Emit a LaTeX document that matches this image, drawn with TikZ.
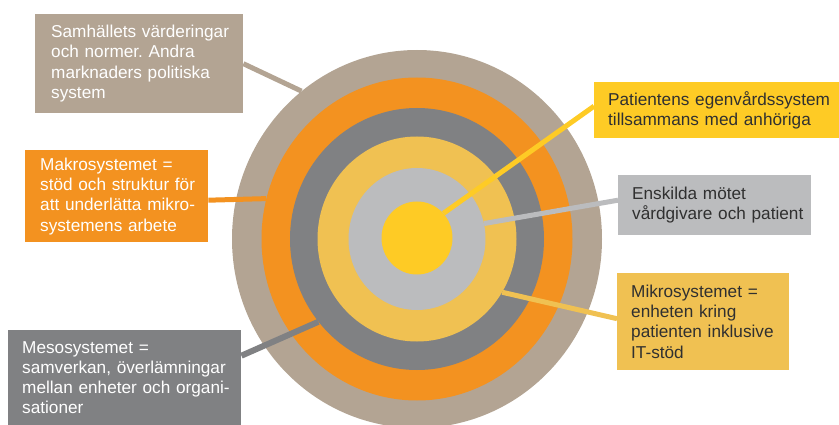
\documentclass[tikz,border=0pt]{standalone}
\usepackage{fontspec}
\setmainfont{Liberation Sans}
\usetikzlibrary{shapes.geometric}
\definecolor{ctan}{HTML}{B3A493}
\definecolor{corange}{HTML}{F39220}
\definecolor{cdgray}{HTML}{808183}
\definecolor{cly}{HTML}{F0C152}
\definecolor{clg}{HTML}{BBBCBE}
\definecolor{cyel}{HTML}{FECB25}
\definecolor{ctext}{HTML}{303030}
\newcommand\Ln[1]{\mbox{#1}}
\frenchspacing
\pgfdeclarelayer{bg}
\pgfdeclarelayer{mid}
\pgfsetlayers{bg,mid,main}
\begin{document}
\begin{tikzpicture}[x=1pt,y=-1pt,
  ring/.style={ellipse, inner sep=0pt, draw=none},
  box/.style={anchor=north west, inner ysep=0pt, align=left,
    font=\fontsize{17.2}{20.3}\selectfont\frenchspacing},
  conn/.style={line width=5pt}]
\useasboundingbox (0,0) rectangle (839,425);
\begin{pgfonlayer}{bg}
\node[ring, fill=ctan,    minimum width=370pt, minimum height=378pt] (rtan) at (417,239) {};
\node[ring, fill=corange, minimum width=311pt, minimum height=323pt] (rorange) at (417,239) {};
\node[ring, fill=cdgray,  minimum width=254pt, minimum height=262pt] (rgray) at (417,239) {};
\node[ring, fill=cly,     minimum width=199pt, minimum height=205pt] (rly) at (417,239) {};
\node[ring, fill=clg,     minimum width=137pt, minimum height=142pt] (rlg) at (417,239) {};
\node[ring, fill=cyel,    minimum width=71pt,  minimum height=73pt] (ryel) at (417,238) {};
\end{pgfonlayer}

\node[box, fill=ctan, text=white, inner xsep=16pt, text width=176pt, minimum height=99pt] (samh) at (35,14)
  {\Ln{Samhällets värderingar}\\\Ln{och normer. Andra}\\\Ln{marknaders politiska}\\\Ln{system}};
\node[box, fill=corange, text=white, inner xsep=15pt, text width=153pt, minimum height=92pt] (makro) at (25,150)
  {\Ln{Makrosystemet =}\\\Ln{stöd och struktur för}\\\Ln{att underlätta mikro-}\\\Ln{systemens arbete}};
\node[box, fill=cdgray, text=white, inner xsep=14pt, text width=205pt, minimum height=95pt] (meso) at (8,330)
  {\Ln{Mesosystemet =}\\\Ln{samverkan, överlämningar}\\\Ln{mellan enheter och organi-}\\\Ln{sationer}};
\node[box, fill=cyel, text=ctext, inner xsep=14pt, text width=218pt, minimum height=56pt] (pat) at (594,82)
  {\Ln{Patientens egenvårdssystem}\\\Ln{tillsammans med anhöriga}};
\node[box, fill=clg, text=ctext, inner xsep=14pt, text width=165pt, minimum height=60pt] (ensk) at (618,175)
  {\Ln{Enskilda mötet}\\\Ln{vårdgivare och patient}};
\node[box, fill=cly, text=ctext, inner xsep=14pt, text width=144pt, minimum height=97pt] (mikro) at (617,273)
  {\Ln{Mikrosystemet =}\\\Ln{enheten kring}\\\Ln{patienten inklusive}\\\Ln{IT-stöd}};

\begin{pgfonlayer}{mid}
\draw[conn, ctan] (samh.east) -- (rtan.128);
\draw[conn, corange] ([yshift=-4pt]makro.east) -- (rorange.165.5);
\draw[conn, cdgray, line width=6pt] ([yshift=22pt]meso.east) -- (rgray.220.3);
\draw[conn, cyel] (ryel.43) -- ([yshift=4pt]pat.west);
\draw[conn, clg] (rlg.13) -- ([yshift=5pt]ensk.west);
\draw[conn, cly] (rly.328) -- ([yshift=3pt]mikro.west);
\end{pgfonlayer}
\end{tikzpicture}
\end{document}
